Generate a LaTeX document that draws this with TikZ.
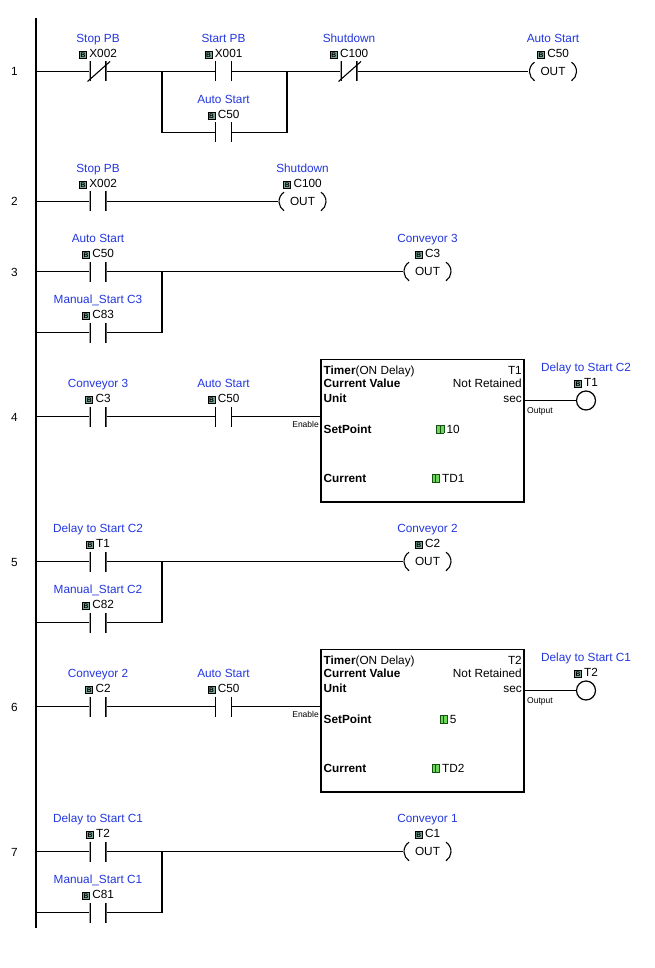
\documentclass[tikz,border=0pt]{standalone}
\usepackage{fontspec}
\setmainfont{Liberation Sans}
\usetikzlibrary{calc}
\definecolor{lblblue}{RGB}{35,55,225}
\definecolor{iconfill}{RGB}{120,165,150}
\definecolor{glight}{RGB}{110,215,90}
\definecolor{gdark}{RGB}{20,80,20}
\newcommand{\bicon}{\raisebox{0.3pt}{\setlength{\fboxsep}{0.7pt}\setlength{\fboxrule}{0.9pt}\fcolorbox{black}{iconfill}{\fontsize{6.7}{6.7}\selectfont\bfseries B}}}
\newcommand{\gicon}{\raisebox{0.3pt}{\setlength{\fboxsep}{0pt}\setlength{\fboxrule}{0.8pt}\fcolorbox{gdark}{glight}{\rule{0pt}{7.2pt}\hspace{2.8pt}\textcolor{gdark}{\rule{1pt}{7.2pt}}\hspace{2.8pt}}}}
\tikzset{
  wire/.style={line width=1.3pt, black},
  rail/.style={line width=1.6pt, black},
  mainfont/.style={font=\fontsize{11.8}{14}\selectfont},
  lbl/.style={mainfont, anchor=base, inner sep=0pt, text=lblblue},
  addr/.style={mainfont, anchor=base, inner sep=0pt},
  num/.style={mainfont, anchor=base, inner sep=0pt},
  boxl/.style={mainfont, anchor=base west, inner sep=0pt},
  boxr/.style={mainfont, anchor=base east, inner sep=0pt},
  boxc/.style={mainfont, anchor=base, inner sep=0pt},
  small/.style={font=\fontsize{8.5}{10}\selectfont, inner sep=0pt},
  contact/.style={minimum width=17pt, minimum height=21pt, inner sep=0pt,
    path picture={\begin{scope}[shift={(path picture bounding box.center)}, x=1pt, y=1pt]
      \draw[wire] (-8,10) -- (-8,-10) (8,10) -- (8,-10);
    \end{scope}}},
  coil/.style={mainfont, minimum width=49pt, minimum height=20pt, inner sep=0pt},
  outcoil/.style={circle, draw, line width=1.2pt, minimum size=19pt, inner sep=0pt},
  timer/.style={draw, line width=1.2pt, minimum width=203pt, minimum height=142.5pt, inner sep=0pt},
}
\newcommand{\ncslash}[1]{\draw[wire, line width=1.1pt] ([shift={(-10.5pt,-10pt)}]#1.center) -- ([shift={(12pt,10pt)}]#1.center);}
\newcommand{\coilarcs}[1]{%
  \draw[wire, line width=1.1pt] ([shift={(-18.5pt,9.3pt)}]#1.center) arc[start angle=123.5, end angle=236.5, radius=11.15pt];
  \draw[wire, line width=1.1pt] ([shift={(18.5pt,9.3pt)}]#1.center) arc[start angle=56.5, end angle=-56.5, radius=11.15pt];}
\newcommand{\tags}[5]{\node[lbl] (#1l) at (#2,#3-29) {#4}; \node[addr] (#1a) at (#2,#3-14) {\bicon\hspace{2.2pt}#5};}
\begin{document}
\begin{tikzpicture}[x=1pt,y=-1pt]
\fill[white] (0,0) rectangle (654,968);
\useasboundingbox (0,0) rectangle (654,968);
% power rail
\coordinate (railtop) at (36,18);
\coordinate (railbot) at (36,928);
\draw[rail] (railtop) -- (railbot);

% ---------- Rung 1
\node[num] (n1) at (14.5,76) {1};
\coordinate (r1) at (36,71.5);
\node[contact] (k1) at (98,71.5) {}; \ncslash{k1}
\coordinate (j1a) at (162,71.5);
\coordinate (j1b) at (162,132.5);
\node[contact] (k2) at (223.5,71.5) {};
\node[contact] (k3) at (223.5,132.5) {};
\coordinate (j1c) at (287,71.5);
\coordinate (j1d) at (287,132.5);
\node[contact] (k4) at (349,71.5) {}; \ncslash{k4}
\node[coil] (q1) at (553,71.5) {OUT}; \coilarcs{q1}
\draw[wire] (r1) -- (k1) -- (j1a) -- (k2) -- (j1c) -- (k4) -- (q1);
\draw[wire] (j1a) -- (j1b) -- (k3) -- (j1d) -- (j1c);
\tags{k1}{98}{71.5}{Stop PB}{X002}
\tags{k2}{223.5}{71.5}{Start PB}{X001}
\tags{k3}{223.5}{132.5}{Auto Start}{C50}
\tags{k4}{349}{71.5}{Shutdown}{C100}
\tags{q1}{553}{71.5}{Auto Start}{C50}

% ---------- Rung 2
\node[num] (n2) at (14.5,206) {2};
\coordinate (r2) at (36,201.5);
\node[contact] (k5) at (98,201.5) {};
\node[coil] (q2) at (302.5,201.5) {OUT}; \coilarcs{q2}
\draw[wire] (r2) -- (k5) -- (q2);
\tags{k5}{98}{201.5}{Stop PB}{X002}
\tags{q2}{302.5}{201.5}{Shutdown}{C100}

% ---------- Rung 3
\node[num] (n3) at (14.5,276) {3};
\coordinate (r3) at (36,271.5);
\node[contact] (k6) at (98,271.5) {};
\coordinate (j3a) at (162,271.5);
\coordinate (r3b) at (36,332.5);
\node[contact] (k7) at (98,332.5) {};
\coordinate (j3b) at (162,332.5);
\node[coil] (q3) at (427.5,271.5) {OUT}; \coilarcs{q3}
\draw[wire] (r3) -- (k6) -- (j3a) -- (q3);
\draw[wire] (r3b) -- (k7) -- (j3b) -- (j3a);
\tags{k6}{98}{271.5}{Auto Start}{C50}
\tags{k7}{98}{332.5}{Manual\_Start C3}{C83}
\tags{q3}{427.5}{271.5}{Conveyor 3}{C3}

% ---------- Rung 4
\node[num] (n4) at (14.5,421) {4};
\coordinate (r4) at (36,416.5);
\node[contact] (k8) at (98,416.5) {};
\node[contact] (k9) at (223.5,416.5) {};
\node[timer] (tm1) at (422.5,430.75) {};
\node[outcoil] (q4) at (586,400.5) {};
\draw[wire] (r4) -- (k8) -- (k9) -- (k9 -| tm1.west);
\draw[wire] (tm1.east |- q4) -- (q4);
\tags{k8}{98}{416.5}{Conveyor 3}{C3}
\tags{k9}{223.5}{416.5}{Auto Start}{C50}
\tags{q4}{586}{400.5}{Delay to Start C2}{T1}
\node[small, anchor=base east] (en1) at (319,427.5) {Enable};
\node[small, anchor=base west] (op1) at (527,413) {Output};
\node[boxl] (tm1a) at (323.5,374) {\textbf{Timer}(ON Delay)};
\node[boxr] (tm1b) at (522,374) {T1};
\node[boxl] (tm1c) at (323.5,387.5) {\textbf{Current Value}};
\node[boxr] (tm1d) at (522,387.5) {Not Retained};
\node[boxl] (tm1e) at (323.5,402) {\textbf{Unit}};
\node[boxr] (tm1f) at (522,402) {sec};
\node[boxl] (tm1g) at (323.5,433) {\textbf{SetPoint}};
\node[boxc] (tm1h) at (448,433) {\gicon\hspace{2.2pt}10};
\node[boxl] (tm1i) at (323.5,482) {\textbf{Current}};
\node[boxc] (tm1j) at (448,482) {\gicon\hspace{2.2pt}TD1};

% ---------- Rung 5
\node[num] (n5) at (14.5,566) {5};
\coordinate (r5) at (36,561.5);
\node[contact] (k10) at (98,561.5) {};
\coordinate (j5a) at (162,561.5);
\coordinate (r5b) at (36,622.5);
\node[contact] (k11) at (98,622.5) {};
\coordinate (j5b) at (162,622.5);
\node[coil] (q5) at (427.5,561.5) {OUT}; \coilarcs{q5}
\draw[wire] (r5) -- (k10) -- (j5a) -- (q5);
\draw[wire] (r5b) -- (k11) -- (j5b) -- (j5a);
\tags{k10}{98}{561.5}{Delay to Start C2}{T1}
\tags{k11}{98}{622.5}{Manual\_Start C2}{C82}
\tags{q5}{427.5}{561.5}{Conveyor 2}{C2}

% ---------- Rung 6
\node[num] (n6) at (14.5,711) {6};
\coordinate (r6) at (36,706.5);
\node[contact] (k12) at (98,706.5) {};
\node[contact] (k13) at (223.5,706.5) {};
\node[timer] (tm2) at (422.5,720.75) {};
\node[outcoil] (q6) at (586,690.5) {};
\draw[wire] (r6) -- (k12) -- (k13) -- (k13 -| tm2.west);
\draw[wire] (tm2.east |- q6) -- (q6);
\tags{k12}{98}{706.5}{Conveyor 2}{C2}
\tags{k13}{223.5}{706.5}{Auto Start}{C50}
\tags{q6}{586}{690.5}{Delay to Start C1}{T2}
\node[small, anchor=base east] (en2) at (319,717.5) {Enable};
\node[small, anchor=base west] (op2) at (527,703) {Output};
\node[boxl] (tm2a) at (323.5,664) {\textbf{Timer}(ON Delay)};
\node[boxr] (tm2b) at (522,664) {T2};
\node[boxl] (tm2c) at (323.5,677.5) {\textbf{Current Value}};
\node[boxr] (tm2d) at (522,677.5) {Not Retained};
\node[boxl] (tm2e) at (323.5,692) {\textbf{Unit}};
\node[boxr] (tm2f) at (522,692) {sec};
\node[boxl] (tm2g) at (323.5,723) {\textbf{SetPoint}};
\node[boxc] (tm2h) at (448,723) {\gicon\hspace{2.2pt}5};
\node[boxl] (tm2i) at (323.5,772) {\textbf{Current}};
\node[boxc] (tm2j) at (448,772) {\gicon\hspace{2.2pt}TD2};

% ---------- Rung 7
\node[num] (n7) at (14.5,856) {7};
\coordinate (r7) at (36,851.5);
\node[contact] (k14) at (98,851.5) {};
\coordinate (j7a) at (162,851.5);
\coordinate (r7b) at (36,912.5);
\node[contact] (k15) at (98,912.5) {};
\coordinate (j7b) at (162,912.5);
\node[coil] (q7) at (427.5,851.5) {OUT}; \coilarcs{q7}
\draw[wire] (r7) -- (k14) -- (j7a) -- (q7);
\draw[wire] (r7b) -- (k15) -- (j7b) -- (j7a);
\tags{k14}{98}{851.5}{Delay to Start C1}{T2}
\tags{k15}{98}{912.5}{Manual\_Start C1}{C81}
\tags{q7}{427.5}{851.5}{Conveyor 1}{C1}
\end{tikzpicture}
\end{document}
